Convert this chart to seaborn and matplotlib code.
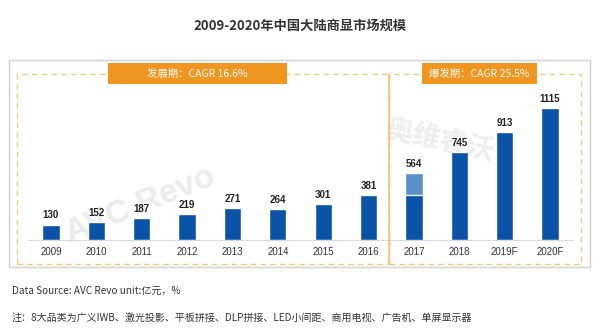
import matplotlib
matplotlib.use("Agg")
import matplotlib.pyplot as plt
import matplotlib.patches as mpatches
import seaborn as sns
import pandas as pd
import numpy as np

years = ["2009", "2010", "2011", "2012", "2013", "2014", "2015", "2016",
         "2017", "2018", "2019F", "2020F"]
values = [130, 152, 187, 219, 271, 264, 301, 381, 564, 745, 913, 1115]
base_2017 = 381  # darker lower part of the 2017 bar

title = "2009-2020年中国大陆商显市场规模"
phase1 = "发展期：CAGR 16.6%"
phase2 = "爆发期：CAGR 25.5%"
source = "Data Source: AVC Revo unit:亿元，%"
note = "注：8大品类为广义IWB、激光投影、平板拼接、DLP拼接、LED小间距、商用电视、广告机、单屏显示器"

sns.set_theme(style="white")
plt.rcParams["font.family"] = ["Noto Sans CJK SC", "DejaVu Sans"]

DARK = "#0b53a6"
LIGHT = "#5a8fca"
ORANGE = "#f0951f"
DASH = "#f2c879"

W, H = 600, 332
fig = plt.figure(figsize=(6.0, 3.32), dpi=100)
fig.patch.set_facecolor("white")

def fx(x):
    return x / W

def fy(y):
    return 1 - y / H

# faint watermarks (behind everything)
fig.text(fx(140), fy(205), "AVC Revo", ha="center", va="center", fontsize=24,
         fontweight="bold", color="#ececec", rotation=22, zorder=-5,
         family=["Liberation Sans"])
fig.text(fx(440), fy(140), "奥维睿沃", ha="center", va="center", fontsize=20,
         fontweight="bold", color="#eeeeee", rotation=-12, zorder=-5)

# outer gray frame
fig.add_artist(mpatches.Rectangle((fx(9), fy(267)), fx(590 - 9), (267 - 60) / H,
                                  transform=fig.transFigure, fill=False,
                                  edgecolor="#d0d0d0", linewidth=1.0))
# dashed phase boxes
fig.add_artist(mpatches.Rectangle((fx(17), fy(264)), fx(389 - 17), (264 - 74) / H,
                                  transform=fig.transFigure, fill=False,
                                  edgecolor=DASH, linewidth=1.0, linestyle=(0, (4, 3))))
fig.add_artist(mpatches.Rectangle((fx(389), fy(264)), fx(581 - 389), (264 - 74) / H,
                                  transform=fig.transFigure, fill=False,
                                  edgecolor=DASH, linewidth=1.0, linestyle=(0, (4, 3))))
# solid separator
fig.add_artist(plt.Line2D([fx(389), fx(389)], [fy(74), fy(264)],
                          transform=fig.transFigure, color="#f3c47a", linewidth=1.2))
# orange headers
fig.add_artist(mpatches.Rectangle((fx(108), fy(84)), fx(287 - 108), 21 / H,
                                  transform=fig.transFigure, facecolor=ORANGE,
                                  edgecolor="none"))
fig.add_artist(mpatches.Rectangle((fx(422), fy(84)), fx(537 - 422), 21 / H,
                                  transform=fig.transFigure, facecolor=ORANGE,
                                  edgecolor="none"))
fig.text(fx(197.5), fy(73.5), phase1, ha="center", va="center", color="white",
         fontsize=7.5)
fig.text(fx(479.5), fy(73.5), phase2, ha="center", va="center", color="white",
         fontsize=7.5)

# title & footer
fig.text(0.5, fy(26), title, ha="center", va="center", fontsize=9.5,
         fontweight="bold", color="#333333")
fig.text(fx(12), fy(291), source, ha="left", va="center", fontsize=7.2,
         color="#333333")
fig.text(fx(12), fy(318), note, ha="left", va="center", fontsize=7.2,
         color="#333333")

# bar axes
y_base = 240
scale = 132 / 1115  # px per unit
top_val = 1300
ax_h = top_val * scale
ax = fig.add_axes([fx(28.3), fy(y_base), fx(572.7 - 28.3), ax_h / H])
ax.patch.set_alpha(0)

df = pd.DataFrame({"year": years, "value": values})
colors = [LIGHT if y == "2017" else DARK for y in years]
sns.barplot(data=df, x="year", y="value", hue="year", palette=colors,
            legend=False, width=0.38, ax=ax, saturation=1, zorder=2)
lower = [base_2017 if y == "2017" else np.nan for y in years]
df2 = pd.DataFrame({"year": years, "value": lower})
sns.barplot(data=df2, x="year", y="value", color=DARK, width=0.38, ax=ax,
            saturation=1, zorder=3)

ax.set_xlim(-0.5, len(years) - 0.5)
ax.set_ylim(0, top_val)
ax.set_xlabel("")
ax.set_ylabel("")
ax.set_yticks([])
for s in ["top", "right", "left"]:
    ax.spines[s].set_visible(False)
ax.spines["bottom"].set_color("#d9d9d9")
ax.spines["bottom"].set_linewidth(0.8)
ax.tick_params(axis="x", length=0, pad=5, labelsize=7, labelcolor="#333333")
for lab in ax.get_xticklabels():
    lab.set_fontfamily("Liberation Sans")

for i, v in enumerate(values):
    ax.text(i, v + 35, str(v), ha="center", va="bottom", fontsize=7,
            fontweight="bold", color="#222222", family="Liberation Sans",
            zorder=5)

fig.savefig("out.png", dpi=100)
